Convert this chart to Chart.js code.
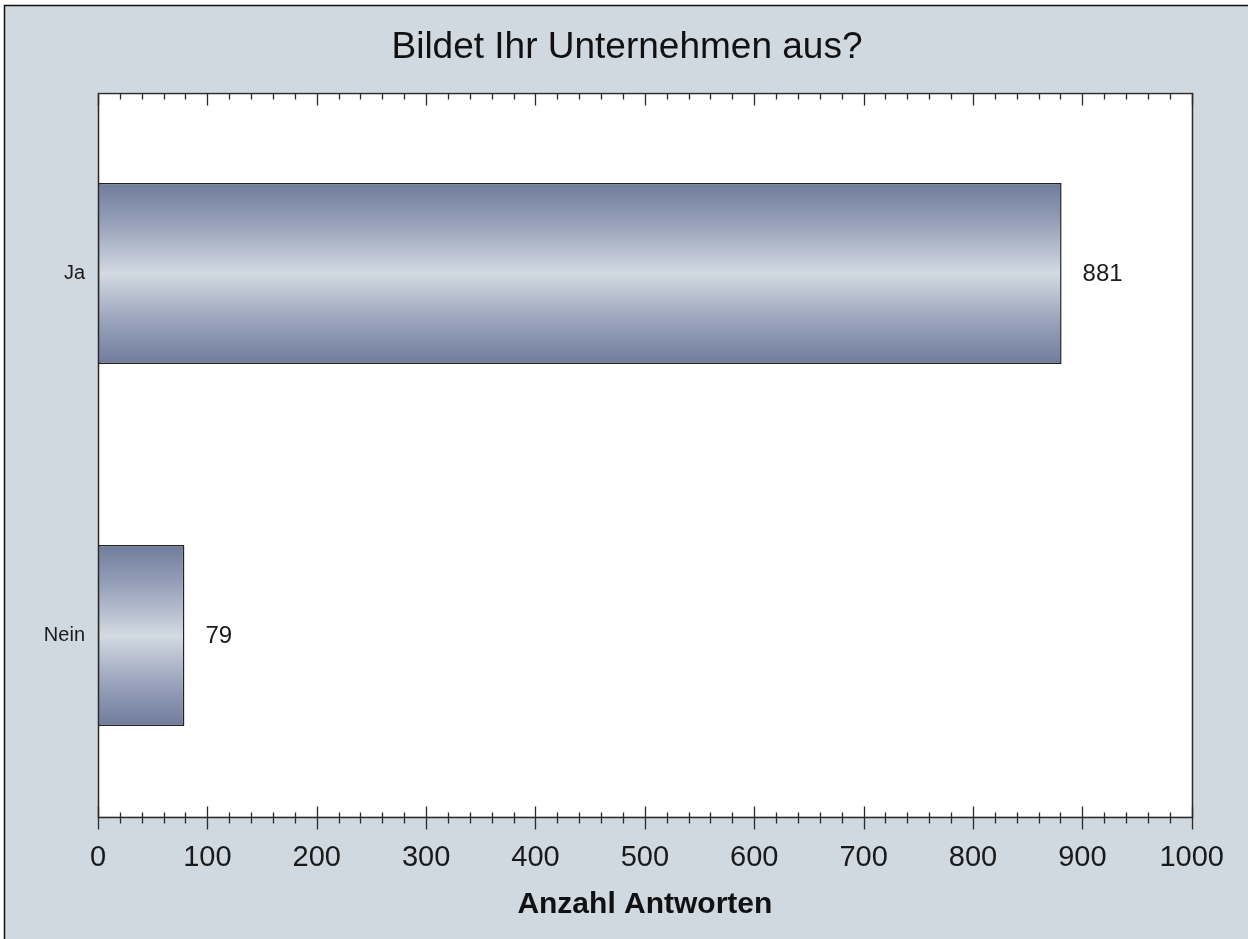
<!DOCTYPE html>
<html>
<head>
<meta charset="utf-8">
<title>Bildet Ihr Unternehmen aus?</title>
<script src="https://cdn.jsdelivr.net/npm/chart.js@4/dist/chart.umd.min.js"></script>
<style>
  html, body { margin: 0; padding: 0; background: #ffffff; }
  #wrap { width: 1248px; height: 939px; }
</style>
</head>
<body>
<div id="wrap"><canvas id="chart" width="1248" height="939"></canvas></div>
<script>
// Survey answers
const categories = ['Ja', 'Nein'];
const answerCounts = [881, 79];
const chartTitle = 'Bildet Ihr Unternehmen aus?';
const axisTitle = 'Anzahl Antworten';

// Axis range and tick spacing
const axisMin = 0;
const axisMax = 1000;
const majorStep = 100;
const minorStep = 20;

const FONT = '"Liberation Sans", Arial, Helvetica, sans-serif';
const PANEL_BG = '#d0d8e0';
const INK = '#1a1a1a';

// Horizontal metallic shading for each bar
function barGradient(context) {
  const chart = context.chart;
  const area = chart.chartArea;
  const yScale = chart.scales.y;
  if (!area || !yScale) return '#9aa4bc';
  const center = yScale.getPixelForValue(context.dataIndex);
  const half = (area.bottom - area.top) / categories.length * 0.5 / 2;
  const g = chart.ctx.createLinearGradient(0, center - half, 0, center + half);
  g.addColorStop(0.00, '#707c9c');
  g.addColorStop(0.22, '#96a0b9');
  g.addColorStop(0.50, '#d3dae2');
  g.addColorStop(0.78, '#96a0b9');
  g.addColorStop(1.00, '#707c9c');
  return g;
}

// Page background, frame, title and white plot area
const framePlugin = {
  id: 'frame',
  beforeDraw(chart) {
    const { ctx, width, height, chartArea } = chart;
    ctx.save();
    ctx.fillStyle = '#ffffff';
    ctx.fillRect(0, 0, width, height);
    ctx.fillStyle = PANEL_BG;
    ctx.fillRect(4, 5, width - 4, height - 5);
    ctx.strokeStyle = '#111';
    ctx.lineWidth = 1.5;
    ctx.beginPath();
    ctx.moveTo(4.5, height);
    ctx.lineTo(4.5, 5.5);
    ctx.lineTo(width, 5.5);
    ctx.stroke();
    ctx.fillStyle = '#ffffff';
    ctx.fillRect(chartArea.left, chartArea.top, chartArea.right - chartArea.left, chartArea.bottom - chartArea.top);
    // heading, centred on the panel
    ctx.font = '37px ' + FONT;
    ctx.fillStyle = '#111';
    ctx.textAlign = 'center';
    ctx.textBaseline = 'middle';
    ctx.fillText(chartTitle, (4 + width) / 2 + 1, 48);
    ctx.restore();
  },
  afterDraw(chart) {
    const { ctx, chartArea } = chart;
    const x = chart.scales.x;
    const L = Math.round(chartArea.left) + 0.5;
    const R = Math.round(chartArea.right) + 0.5;
    const T = Math.round(chartArea.top) + 0.5;
    const B = Math.round(chartArea.bottom) + 0.5;
    ctx.save();
    ctx.strokeStyle = '#2a2a2a';
    ctx.lineWidth = 1.5;
    ctx.strokeRect(L, T, R - L, B - T);
    ctx.lineWidth = 1.3;
    ctx.beginPath();
    for (let v = axisMin; v <= axisMax; v += minorStep) {
      const px = Math.round(x.getPixelForValue(v)) + 0.5;
      const major = v % majorStep === 0;
      // bottom axis: ticks cross the line
      ctx.moveTo(px, B - (major ? 11 : 5));
      ctx.lineTo(px, B + (major ? 12 : 6));
      // top edge: ticks point inward
      ctx.moveTo(px, T);
      ctx.lineTo(px, T + (major ? 12 : 6));
    }
    ctx.stroke();
    ctx.restore();
  }
};

// Count printed to the right of each bar
const valueLabelPlugin = {
  id: 'valueLabels',
  afterDatasetsDraw(chart) {
    const { ctx } = chart;
    const meta = chart.getDatasetMeta(0);
    const data = chart.data.datasets[0].data;
    ctx.save();
    ctx.font = '24px ' + FONT;
    ctx.fillStyle = INK;
    ctx.textAlign = 'left';
    ctx.textBaseline = 'middle';
    meta.data.forEach((bar, i) => {
      ctx.fillText(String(data[i]), bar.x + 21, bar.y + 1);
    });
    ctx.restore();
  }
};

new Chart(document.getElementById('chart'), {
  type: 'bar',
  data: {
    labels: categories,
    datasets: [{
      label: axisTitle,
      data: answerCounts,
      backgroundColor: barGradient,
      borderColor: '#222',
      borderWidth: 1.5,
      borderSkipped: false,
      barPercentage: 0.5,
      categoryPercentage: 1.0
    }]
  },
  options: {
    indexAxis: 'y',
    responsive: false,
    animation: false,
    devicePixelRatio: 1,
    layout: { padding: { left: 0, right: 55.5, top: 92.5, bottom: 0 } },
    plugins: {
      legend: { display: false },
      tooltip: { enabled: false },
      title: { display: false }
    },
    scales: {
      x: {
        type: 'linear',
        position: 'bottom',
        min: axisMin,
        max: axisMax,
        grid: { display: false, drawTicks: false },
        border: { display: false },
        ticks: {
          stepSize: majorStep,
          padding: 24,
          color: INK,
          font: { family: FONT, size: 29 },
          maxRotation: 0,
          callback: (value) => String(value)
        },
        title: {
          display: true,
          text: axisTitle,
          color: '#111',
          font: { family: FONT, size: 30, weight: 'bold', lineHeight: 1.2 },
          padding: { top: 0, bottom: 16 }
        },
        afterFit(scale) { scale.height = 122.5; }
      },
      y: {
        type: 'category',
        grid: { display: false, drawTicks: false },
        border: { display: false },
        ticks: {
          padding: 13,
          color: INK,
          font: { family: FONT, size: 20 }
        },
        afterFit(scale) { scale.width = 98; }
      }
    }
  },
  plugins: [framePlugin, valueLabelPlugin]
});
</script>
</body>
</html>
